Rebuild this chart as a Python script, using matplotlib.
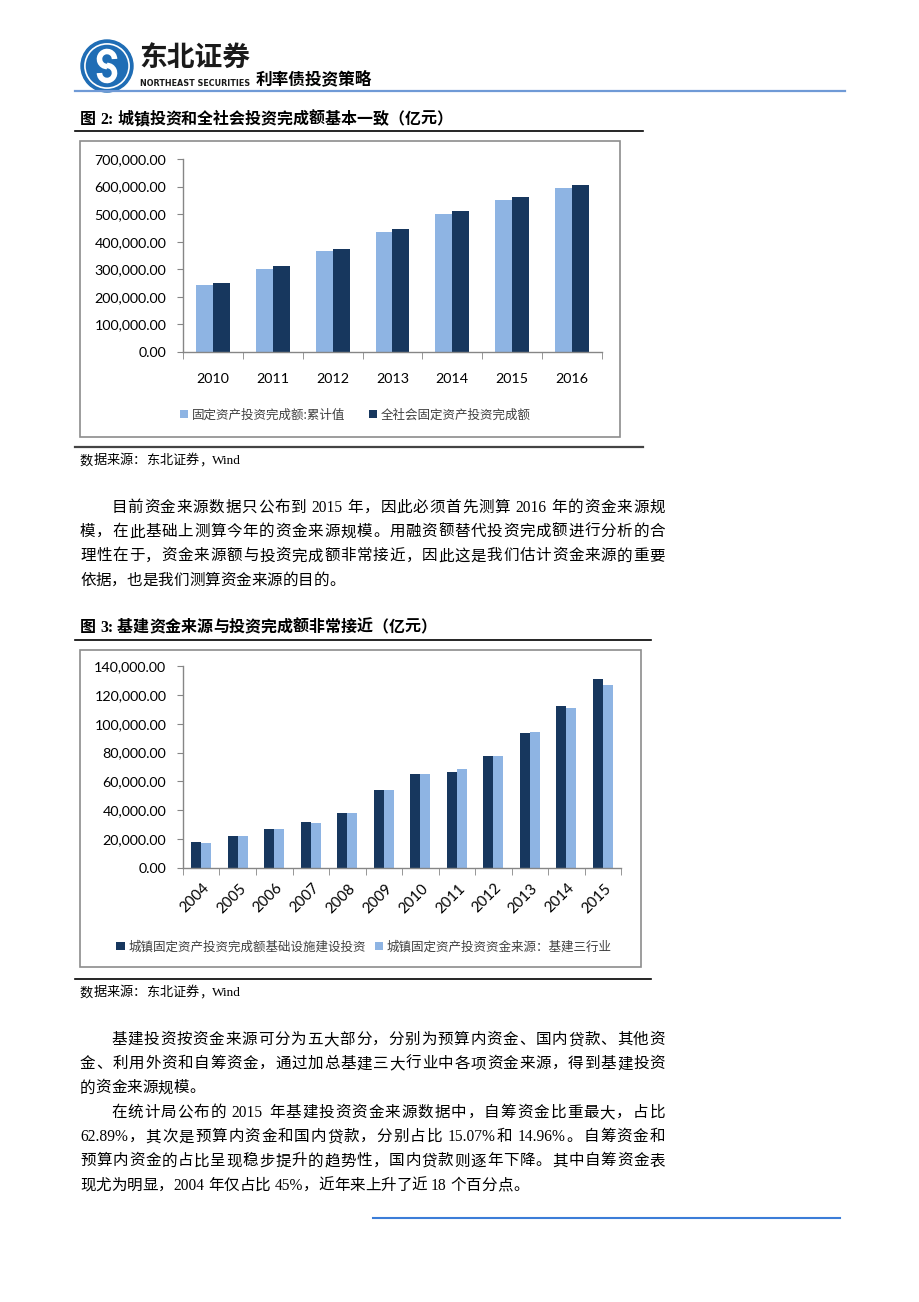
import matplotlib
matplotlib.use('Agg')
import matplotlib.pyplot as plt
from matplotlib import patches
from matplotlib.ticker import FuncFormatter
from matplotlib.transforms import ScaledTranslation
import numpy as np

W, H = 920, 1302  # page size in pixels (dpi 100)

# ---- chart data (亿元) ----
years_1 = ['2010', '2011', '2012', '2013', '2014', '2015', '2016']
fai_cum = [241431, 302396, 364854, 436528, 502005, 551590, 596501]
fai_total = [251684, 311485, 374694, 446294, 512021, 561999, 606466]
legend_1 = ['固定资产投资完成额:累计值', '全社会固定资产投资完成额']

years_2 = ['2004', '2005', '2006', '2007', '2008', '2009',
           '2010', '2011', '2012', '2013', '2014', '2015']
infra_inv = [18200, 22200, 27100, 32000, 38300, 54400, 65000, 66800, 77300, 93500, 112100, 130800]
infra_src = [17300, 22000, 27100, 31100, 38300, 54400, 65000, 68500, 77300, 94400, 111200, 126600]
legend_2 = ['城镇固定资产投资完成额基础设施建设投资', '城镇固定资产投资资金来源：基建三行业']

# ---- page text ----
header_title = '利率债投资策略'
caption_1 = '图 2: 城镇投资和全社会投资完成额基本一致（亿元）'
caption_2 = '图 3: 基建资金来源与投资完成额非常接近（亿元）'
source = '数据来源：东北证券，Wind'
para_1 = [
    '目前资金来源数据只公布到 2015 年，因此必须首先测算 2016 年的资金来源规',
    '模，在此基础上测算今年的资金来源规模。用融资额替代投资完成额进行分析的合',
    '理性在于，资金来源额与投资完成额非常接近，因此这是我们估计资金来源的重要',
    '依据，也是我们测算资金来源的目的。',
]
para_2 = [
    '基建投资按资金来源可分为五大部分，分别为预算内资金、国内贷款、其他资',
    '金、利用外资和自筹资金，通过加总基建三大行业中各项资金来源，得到基建投资',
    '的资金来源规模。',
]
para_3 = [
    '在统计局公布的 2015 年基建投资资金来源数据中，自筹资金比重最大，占比',
    '62.89%，其次是预算内资金和国内贷款，分别占比 15.07%和 14.96%。自筹资金和',
    '预算内资金的占比呈现稳步提升的趋势性，国内贷款则逐年下降。其中自筹资金表',
    '现尤为明显，2004 年仅占比 45%，近年来上升了近 18 个百分点。',
]

LIGHT = '#8EB4E3'
DARK = '#17375E'
AXIS = '#868686'
BODY = ['Liberation Serif', 'Noto Sans CJK SC']

plt.rcParams['font.family'] = ['Lato', 'Noto Sans CJK SC']

fig = plt.figure(figsize=(W / 100, H / 100), dpi=100)
page = fig.add_axes([0, 0, 1, 1])
page.set_xlim(0, W)
page.set_ylim(H, 0)
page.axis('off')
renderer = fig.canvas.get_renderer()


def split_tokens(line):
    toks, buf = [], ''
    for ch in line:
        if ch == ' ' or ord(ch) > 127:
            if buf:
                toks.append(buf)
                buf = ''
            toks.append(ch)
        else:
            buf += ch
    if buf:
        toks.append(buf)
    return toks


def text_line(line, x0, y, size, x1=None, **kw):
    """Draw one line of mixed CJK/latin text, justified to x1 if given."""
    em = size * 100 / 72
    items = []
    for tok in split_tokens(line):
        if tok == ' ':
            items.append((None, em * 0.25))
        elif ord(tok[0]) > 127:
            t = page.text(0, y, tok, fontsize=size, ha='center', va='center', family=BODY, **kw)
            items.append((t, em))
        else:
            t = page.text(0, y, tok, fontsize=size, ha='left', va='center', family=BODY, **kw)
            items.append((t, t.get_window_extent(renderer=renderer).width))
    total = sum(w for _, w in items)
    gap = (x1 - x0 - total) / (len(items) - 1) if x1 else 0
    x = x0
    for t, w in items:
        if t is not None:
            t.set_x(x + w / 2 if t.get_ha() == 'center' else x)
        x += w + gap


def paragraph(lines, y0, step=24.2, size=11.2, x0=80, x1=665):
    em = size * 100 / 72
    for i, line in enumerate(lines):
        last = i == len(lines) - 1
        text_line(line, x0 + (2 * em if i == 0 else 0), y0 + i * step, size,
                  x1=None if last else x1)


def chart_axes(x0, x1, y_top, y_bot):
    ax = fig.add_axes([x0 / W, 1 - y_bot / H, (x1 - x0) / W, (y_bot - y_top) / H])
    ax.patch.set_alpha(0)
    for s in ['top', 'right']:
        ax.spines[s].set_visible(False)
    for s in ['left', 'bottom']:
        ax.spines[s].set_color(AXIS)
        ax.spines[s].set_linewidth(1)
    ax.yaxis.set_major_formatter(FuncFormatter(lambda v, p: f'{v:,.2f}'))
    ax.tick_params(axis='y', length=4, color=AXIS, pad=8, labelsize=10.3)
    ax.tick_params(axis='x', which='major', length=0, labelsize=10.3)
    ax.tick_params(axis='x', which='minor', length=5, color=AXIS)
    return ax


# ---- header ----
cx, cy, r = 107, 66, 26
page.add_patch(patches.Circle((cx, cy), r, color='#1F6DB5'))
page.add_patch(patches.Circle((cx, cy), r * 0.85, fill=False, ec='white', lw=1.2))
page.add_patch(patches.Arc((cx, cy - 7), 15, 15, theta1=90, theta2=360, color='white', lw=4))
page.add_patch(patches.Arc((cx, cy + 7), 15, 15, theta1=-90, theta2=180, color='white', lw=4))
page.text(139, 59, '东北证券', fontsize=20, fontweight='bold', family='Noto Sans CJK SC',
          color='#1a1a1a', va='center', ha='left')
page.text(140, 84, 'NORTHEAST SECURITIES', fontsize=5.8, fontweight='bold', family='DejaVu Sans',
          color='#1a1a1a', va='center', ha='left')
page.text(256, 79, header_title, fontsize=12, fontweight='bold', family='Noto Sans CJK SC',
          va='center', ha='left')
page.plot([75, 845], [91, 91], color='#6F9AD6', lw=1.6)

# ---- figure 2 ----
text_line(caption_1, 80, 120, 11.5, fontweight='bold')
page.plot([75, 643], [131, 131], color='black', lw=1.2)
page.add_patch(patches.Rectangle((80, 141), 540, 296, fill=False, ec='#8c8c8c', lw=1.2))
page.plot([75, 643], [447, 447], color='#444444', lw=1.6)
text_line(source, 80, 461, 9.5)

ax1 = chart_axes(183, 602, 159, 352)
x1 = np.arange(len(years_1))
bw = 0.284
ax1.bar(x1 - bw / 2, fai_cum, bw, color=LIGHT, label=legend_1[0])
ax1.bar(x1 + bw / 2, fai_total, bw, color=DARK, label=legend_1[1])
ax1.set_xlim(-0.5, len(years_1) - 0.5)
ax1.set_ylim(0, 700000)
ax1.set_yticks(np.arange(0, 700001, 100000))
ax1.set_xticks(x1)
ax1.set_xticklabels(years_1)
ax1.set_xticks(np.arange(-0.5, len(years_1)), minor=True)
ax1.tick_params(axis='x', which='major', pad=15)
ax1.legend(loc='center', bbox_to_anchor=(355 / W, 1 - 415 / H), bbox_transform=fig.transFigure,
           ncol=2, frameon=False, prop={'family': 'Noto Sans CJK SC', 'size': 9},
           labelcolor='#404040', handlelength=0.65, handleheight=0.65,
           handletextpad=0.3, columnspacing=1.9)

# ---- paragraph ----
paragraph(para_1, 508)

# ---- figure 3 ----
text_line(caption_2, 80, 628, 11.5, fontweight='bold')
page.plot([75, 651], [640, 640], color='black', lw=1.2)
page.add_patch(patches.Rectangle((80, 650), 561, 317, fill=False, ec='#8c8c8c', lw=1.2))
page.plot([75, 651], [979, 979], color='black', lw=1.2)
text_line(source, 80, 993, 9.5)

ax2 = chart_axes(183, 621, 666, 868)
x2 = np.arange(len(years_2))
bw = 0.275
ax2.bar(x2 - bw / 2, infra_inv, bw, color=DARK, label=legend_2[0])
ax2.bar(x2 + bw / 2, infra_src, bw, color=LIGHT, label=legend_2[1])
ax2.set_xlim(-0.5, len(years_2) - 0.5)
ax2.set_ylim(0, 140000)
ax2.set_yticks(np.arange(0, 140001, 20000))
ax2.set_xticks(x2)
ax2.set_xticklabels(years_2, rotation=45, ha='right', va='center', rotation_mode='anchor')
ax2.set_xticks(np.arange(-0.5, len(years_2)), minor=True)
ax2.tick_params(axis='x', which='major', pad=13, labelsize=10.8)
for lab in ax2.get_xticklabels():
    lab.set_transform(lab.get_transform() + ScaledTranslation(6 / 100, 0, fig.dpi_scale_trans))
ax2.legend(loc='center', bbox_to_anchor=(364 / W, 1 - 947 / H), bbox_transform=fig.transFigure,
           ncol=2, frameon=False, prop={'family': 'Noto Sans CJK SC', 'size': 9},
           labelcolor='#404040', handlelength=0.65, handleheight=0.65,
           handletextpad=0.3, columnspacing=0.7)

# ---- paragraphs ----
paragraph(para_2, 1040)
paragraph(para_3, 1113)
page.plot([373, 840], [1218, 1218], color='#3B7DD8', lw=1.5)

fig.savefig('out.png', dpi=100)
